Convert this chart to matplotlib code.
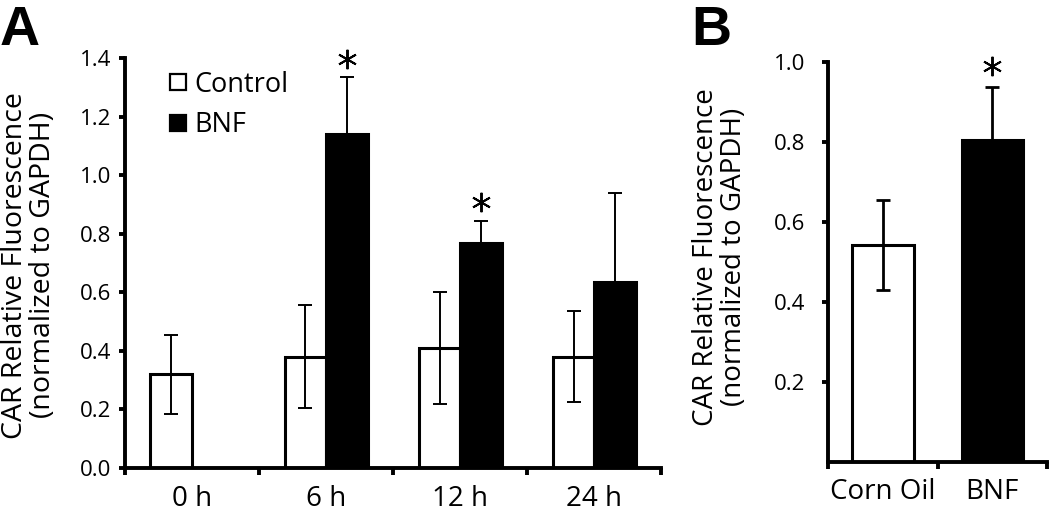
import numpy as np
import matplotlib
matplotlib.use("Agg")
import matplotlib.pyplot as plt
import matplotlib.transforms as mtransforms
from matplotlib.lines import Line2D

plt.rcParams['font.family'] = ['Open Sans', 'DejaVu Sans']

# ---- data ----
time_labels = ['0 h', '6 h', '12 h', '24 h']
control_mean = [0.32, 0.38, 0.41, 0.38]
control_err = [0.135, 0.175, 0.19, 0.155]
bnf_mean = [np.nan, 1.14, 0.77, 0.635]
bnf_err = [np.nan, 0.195, 0.075, 0.305]
bnf_sig = [False, True, True, False]

b_labels = ['Corn Oil', 'BNF']
b_mean = [0.543, 0.806]
b_err = [0.113, 0.131]
b_colors = ['white', 'black']
b_sig = [False, True]

# ---- style ----
SPINE_LW = 2.8
BAR_LW = 2.2
ERR_LW = 1.4
CAP = 4.8
STAR = (6, 2, 0)  # six-armed asterisk

fig = plt.figure(figsize=(10.5, 5.15), dpi=100)
axA = fig.add_axes([0.119, 0.0913, 0.511, 0.796])
axB = fig.add_axes([0.789, 0.1035, 0.208, 0.776])


def style_axes(ax, nb):
    for s in ['top', 'right']:
        ax.spines[s].set_visible(False)
    for s in ['left', 'bottom']:
        ax.spines[s].set_linewidth(SPINE_LW)
    ax.tick_params(axis='y', direction='out', length=4, width=SPINE_LW,
                   labelsize=16, pad=6)
    # labels at centres, tick marks at the group boundaries
    ax.set_xticks(np.arange(nb))
    ax.set_xticks(np.arange(nb + 1) - 0.5, minor=True)
    ax.tick_params(axis='x', which='major', length=0, labelsize=20, pad=12)
    ax.tick_params(axis='x', which='minor', direction='out', length=5,
                   width=SPINE_LW)
    ax.set_xlim(-0.5, nb - 0.5)


def add_star(ax, xv, yv, dy):
    tr = mtransforms.offset_copy(ax.transData, fig=fig, y=dy, units='points')
    ax.plot([xv], [yv], ls='', marker=STAR, ms=14, mew=1.4, color='black',
            transform=tr, clip_on=False)


# ================= Panel A =================
x = np.arange(len(time_labels))
w = 0.31
axA.bar(x - w / 2, control_mean, w, color='white', edgecolor='black',
        linewidth=BAR_LW, zorder=2)
axA.errorbar(x - w / 2, control_mean, yerr=control_err, fmt='none',
             ecolor='black', elinewidth=ERR_LW, capsize=CAP, capthick=ERR_LW,
             zorder=3)
axA.bar(x + w / 2, bnf_mean, w, color='black', edgecolor='black',
        linewidth=BAR_LW, zorder=2)
axA.errorbar(x + w / 2, bnf_mean, yerr=bnf_err, fmt='none',
             ecolor='black', elinewidth=ERR_LW, capsize=CAP, capthick=ERR_LW,
             zorder=1)
for i, sig in enumerate(bnf_sig):
    if sig:
        add_star(axA, x[i] + w / 2, bnf_mean[i] + bnf_err[i], 13)

style_axes(axA, len(time_labels))
axA.set_xticklabels(time_labels)
axA.set_ylim(0, 1.4)
axA.set_yticks(np.arange(0, 1.41, 0.2))
axA.set_yticklabels([f'{v:.1f}' for v in np.arange(0, 1.41, 0.2)])

handles = [Line2D([], [], marker='s', ls='', mfc='white', mec='black',
                  ms=11, mew=1.6),
           Line2D([], [], marker='s', ls='', mfc='black', mec='black',
                  ms=11, mew=1.6)]
axA.legend(handles, ['Control', 'BNF'], loc='upper left',
           bbox_to_anchor=(0.054, 0.995), frameon=False, fontsize=19.5,
           handletextpad=0.1, labelspacing=0.45, borderaxespad=0,
           handlelength=1.0)

# ================= Panel B =================
xb = np.arange(len(b_labels))
wb = 0.56
axB.bar(xb, b_mean, wb, color=b_colors, edgecolor='black',
        linewidth=BAR_LW, zorder=2)
axB.errorbar(xb, b_mean, yerr=b_err, fmt='none', ecolor='black',
             elinewidth=ERR_LW + 0.6, capsize=CAP, capthick=ERR_LW + 0.6,
             zorder=3)
for i, sig in enumerate(b_sig):
    if sig:
        add_star(axB, xb[i], b_mean[i] + b_err[i], 15)

style_axes(axB, len(b_labels))
axB.tick_params(axis='y', pad=13)
axB.set_xticklabels(b_labels)
axB.set_ylim(0, 1.0)
axB.set_yticks([0.2, 0.4, 0.6, 0.8, 1.0])
axB.set_yticklabels(['0.2', '0.4', '0.6', '0.8', '1.0'])

# ---- axis titles and panel letters ----
ylab = 'CAR Relative Fluorescence\n(normalized to GAPDH)'
fig.text(0.0276, 0.485, ylab, rotation=90, ha='center', va='center',
         fontsize=20.5, linespacing=1.0, multialignment='center')
fig.text(0.686, 0.501, ylab, rotation=90, ha='center', va='center',
         fontsize=20, linespacing=1.0, multialignment='center')

fig.text(0.0, 0.99, 'A', fontsize=40, fontweight='bold', va='top', ha='left',
         family='Liberation Sans')
fig.text(0.658, 0.99, 'B', fontsize=40, fontweight='bold', va='top',
         ha='left', family='Liberation Sans')

fig.savefig('out.png', dpi=100)
